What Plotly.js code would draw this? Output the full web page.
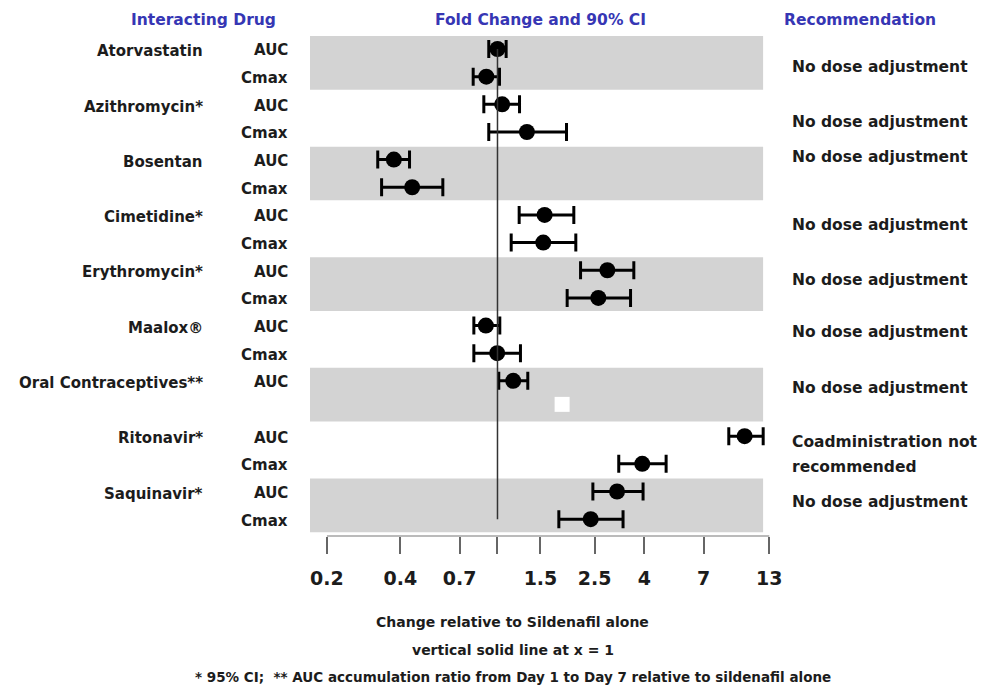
<!DOCTYPE html>
<html>
<head>
<meta charset="utf-8">
<script src="https://cdn.plot.ly/plotly-3.0.1.min.js"></script>
<style>html,body{margin:0;padding:0;background:#fff;}#chart{width:982px;height:698px;}</style>
</head>
<body>
<div id="chart"></div>
<script>
// ---- data ----
const drugs = ["Atorvastatin", "Azithromycin*", "Bosentan", "Cimetidine*", "Erythromycin*", "Maalox\u00AE", "Oral Contraceptives**", "Ritonavir*", "Saquinavir*"];
const recommendations = ["No dose adjustment", "No dose adjustment", "No dose adjustment", "No dose adjustment", "No dose adjustment", "No dose adjustment", "No dose adjustment", "Coadministration not<br>recommended", "No dose adjustment"];
// each drug has two rows (AUC, Cmax); Oral Contraceptives has only AUC
const rowDrug   = [0,0, 1,1, 2,2, 3,3, 4,4, 5,5, 6,6, 7,7, 8,8];
const rowLabel  = ["AUC","Cmax","AUC","Cmax","AUC","Cmax","AUC","Cmax","AUC","Cmax","AUC","Cmax","AUC","","AUC","Cmax","AUC","Cmax"];
const pointEst  = [1.00, 0.90, 1.045, 1.32, 0.376, 0.447, 1.56, 1.54, 2.82, 2.59, 0.896, 0.997, 1.16, null, 10.3, 3.92, 3.09, 2.41];
const ciLower   = [0.921, 0.795, 0.879, 0.921, 0.323, 0.335, 1.227, 1.138, 2.19, 1.93, 0.80, 0.80, 1.012, null, 8.87, 3.14, 2.46, 1.784];
const ciUpper   = [1.085, 1.019, 1.231, 1.918, 0.436, 0.597, 2.055, 2.094, 3.62, 3.51, 1.022, 1.242, 1.331, null, 12.27, 4.91, 3.95, 3.27];
const tickVals  = [0.2, 0.4, 0.7, 1, 1.5, 2.5, 4, 7, 13];
const tickText  = ["0.2", "0.4", "0.7", "", "1.5", "2.5", "4", "7", "13"];
const artifactX = [1.84];
const artifactRow = [12.85];

// ---- build ----
const rows = rowLabel.map((_, i) => i);
const FONT = "DejaVu Sans, Verdana, sans-serif";
const dark = "#1c1c1c";

const trace = {
  type: "scatter", mode: "markers",
  x: pointEst, y: rows,
  marker: {symbol: "circle", size: 16, color: "#000"},
  error_x: {
    type: "data", symmetric: false,
    array: pointEst.map((p, i) => p == null ? null : ciUpper[i] - p),
    arrayminus: pointEst.map((p, i) => p == null ? null : p - ciLower[i]),
    color: "#000", thickness: 3, width: 9
  },
  hoverinfo: "skip", showlegend: false, cliponaxis: false
};
const artifact = {
  type: "scatter", mode: "markers", x: artifactX, y: artifactRow,
  marker: {symbol: "square", size: 15, color: "#fff"},
  hoverinfo: "skip", showlegend: false
};

const shapes = [];
const annotations = [];
const firstRow = {};
rowDrug.forEach((d, i) => { if (firstRow[d] === undefined) firstRow[d] = i; });
drugs.forEach((d, k) => {
  const r = firstRow[k];
  if (k % 2 === 0) {
    shapes.push({type: "rect", layer: "below", xref: "paper", yref: "y",
      x0: 0, x1: 0.985, y0: r - 0.47, y1: r + 1.47,
      fillcolor: "#d3d3d3", line: {width: 0}});
  }
  annotations.push({xref: "paper", yref: "y", x: -0.2288, y: r + 0.08, xanchor: "right", yanchor: "middle",
    text: "<b>" + d + "</b>", showarrow: false, font: {family: FONT, size: 15, color: dark}});
});
shapes.push({type: "line", xref: "x", yref: "y", x0: 1, x1: 1, y0: 0, y1: 17, line: {color: "#333", width: 1.5}});
shapes.push({type: "line", xref: "x", yref: "paper", x0: 0.2, x1: 13, y0: 0, y1: 0, line: {color: "#bbbbbb", width: 2}});

rowLabel.forEach((lab, i) => {
  if (!lab) return;
  annotations.push({xref: "paper", yref: "y", x: -0.0436, y: i + 0.05, xanchor: "right", yanchor: "middle",
    text: "<b>" + lab + "</b>", showarrow: false, font: {family: FONT, size: 15, color: dark}});
});
const recRows = [0.65, 2.64, 3.91, 6.37, 8.35, 10.23, 12.26, 14.21, 16.38];
recommendations.forEach((t, k) => {
  t.split("<br>").forEach((line, j) => {
    annotations.push({xref: "paper", yref: "y", x: 1.0436, y: recRows[k] + j * 0.92, xanchor: "left", yanchor: "middle",
      align: "left", text: "<b>" + line + "</b>", showarrow: false,
      font: {family: FONT, size: 15.5, color: dark}});
  });
});
const blue = "#3636b4";
[["Interacting Drug", -0.231], ["Fold Change and 90% CI", 0.50], ["Recommendation", 1.1955]].forEach(h => {
  annotations.push({xref: "paper", yref: "paper", x: h[1], y: 1.0238, xanchor: "center", yanchor: "middle",
    text: "<b>" + h[0] + "</b>", showarrow: false, font: {family: FONT, size: 15.5, color: blue}});
});
annotations.push({xref: "paper", yref: "paper", x: 0.441, y: -0.1706, xanchor: "center", yanchor: "middle",
  text: "<b>Change relative to Sildenafil alone</b>", showarrow: false, font: {family: FONT, size: 14, color: dark}});
annotations.push({xref: "paper", yref: "paper", x: 0.441, y: -0.226, xanchor: "center", yanchor: "middle",
  text: "<b>vertical solid line at x = 1</b>", showarrow: false, font: {family: FONT, size: 14, color: dark}});
annotations.push({xref: "paper", yref: "paper", x: 0.441, y: -0.2798, xanchor: "center", yanchor: "middle",
  text: "<b>* 95% CI;  ** AUC accumulation ratio from Day 1 to Day 7 relative to sildenafil alone</b>", showarrow: false,
  font: {family: FONT, size: 13.5, color: dark}});

const layout = {
  width: 982, height: 698,
  margin: {l: 310, r: 212, t: 32, b: 162, pad: 0},
  paper_bgcolor: "#fff", plot_bgcolor: "#fff",
  xaxis: {type: "log", range: [-0.7684, 1.1168], tickvals: tickVals, ticktext: tickText,
    ticks: "outside", ticklen: 17, tickwidth: 2, tickcolor: "#666", ticklabelstandoff: 8,
    showgrid: false, zeroline: false, showline: false,
    tickfont: {family: FONT, size: 19, color: dark, weight: "bold"}, fixedrange: true},
  yaxis: {range: [17.61, -0.615], visible: false, showgrid: false, zeroline: false, fixedrange: true},
  shapes: shapes, annotations: annotations, showlegend: false
};
Plotly.newPlot("chart", [trace, artifact], layout, {displayModeBar: false, staticPlot: true});
</script>
</body>
</html>
